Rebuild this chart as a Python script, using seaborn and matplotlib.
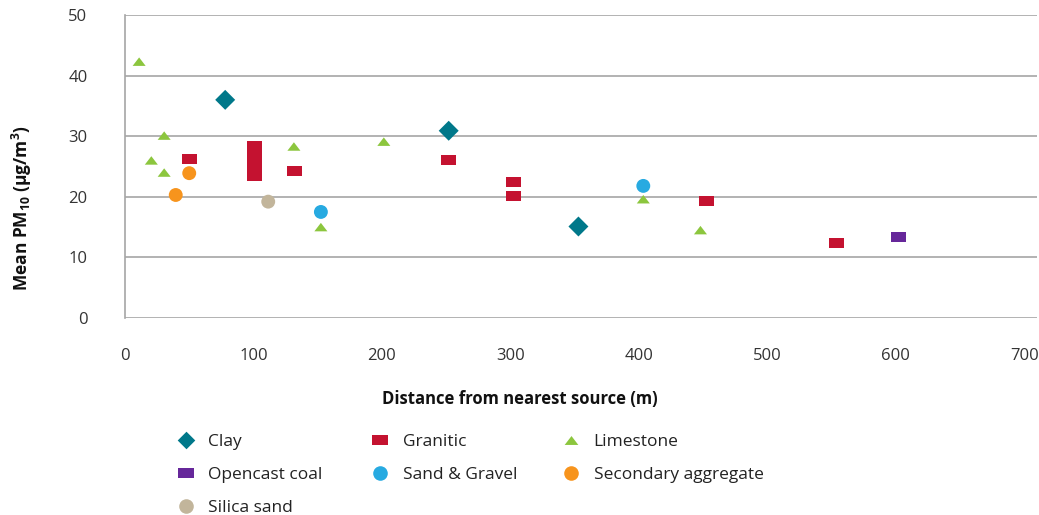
import numpy as np
import pandas as pd
import seaborn as sns
import matplotlib.pyplot as plt
from matplotlib.lines import Line2D
from matplotlib.path import Path

# Mean PM10 by distance from nearest mineral source, grouped by source type
clay_x = [78, 252, 353]
clay_y = [36.0, 30.9, 15.1]

granitic_x = [50.5, 100.5, 100.5, 100.5, 100.5, 100.5, 132, 252, 302.5, 302.5, 452.5, 554]
granitic_y = [26.2, 23.5, 24.7, 25.9, 27.1, 28.3, 24.3, 26.1, 22.4, 20.1, 19.3, 12.3]

limestone_x = [11, 20.5, 30.5, 30.5, 131.5, 152.5, 201.5, 403.5, 448]
limestone_y = [42.3, 26.0, 30.1, 24.0, 28.3, 15.0, 29.1, 19.6, 14.5]

coal_x = [602]
coal_y = [13.4]

sand_gravel_x = [152.5, 403.5]
sand_gravel_y = [17.5, 21.8]

secondary_x = [39.5, 50]
secondary_y = [20.3, 23.9]

silica_x = [111.5]
silica_y = [19.2]

x_ticks = [0, 100, 200, 300, 400, 500, 600, 700]
y_ticks = [0, 10, 20, 30, 40, 50]

groups = {
    "Clay": (clay_x, clay_y),
    "Granitic": (granitic_x, granitic_y),
    "Limestone": (limestone_x, limestone_y),
    "Opencast coal": (coal_x, coal_y),
    "Sand & Gravel": (sand_gravel_x, sand_gravel_y),
    "Secondary aggregate": (secondary_x, secondary_y),
    "Silica sand": (silica_x, silica_y),
}
df = pd.concat(
    [pd.DataFrame({"Distance": xs, "PM10": ys, "Source": name})
     for name, (xs, ys) in groups.items()],
    ignore_index=True,
)

sns.set_theme(style="white")
plt.rcParams["font.family"] = ["Open Sans", "DejaVu Sans"]
plt.rcParams["mathtext.fontset"] = "custom"
plt.rcParams["mathtext.rm"] = "Open Sans:bold"
plt.rcParams["mathtext.default"] = "rm"

diamond = Path([(0, 1), (1, 0), (0, -1), (-1, 0), (0, 1)],
               [Path.MOVETO, Path.LINETO, Path.LINETO, Path.LINETO, Path.CLOSEPOLY])
rect = Path([(-1, -0.667), (1, -0.667), (1, 0.667), (-1, 0.667), (-1, -0.667)],
            [Path.MOVETO, Path.LINETO, Path.LINETO, Path.LINETO, Path.CLOSEPOLY])
tri = Path([(0, 0.65), (1, -0.65), (-1, -0.65), (0, 0.65)],
           [Path.MOVETO, Path.LINETO, Path.LINETO, Path.CLOSEPOLY])

palette = {
    "Clay": "#00788a",
    "Granitic": "#c41230",
    "Limestone": "#8cc63e",
    "Opencast coal": "#66279a",
    "Sand & Gravel": "#27aae1",
    "Secondary aggregate": "#f7941d",
    "Silica sand": "#c2b59b",
}
markers = {
    "Clay": diamond,
    "Granitic": rect,
    "Limestone": tri,
    "Opencast coal": rect,
    "Sand & Gravel": "o",
    "Secondary aggregate": "o",
    "Silica sand": "o",
}
sizes = {
    "Clay": 207,
    "Granitic": 117,
    "Limestone": 88,
    "Opencast coal": 117,
    "Sand & Gravel": 100,
    "Secondary aggregate": 100,
    "Silica sand": 100,
}

W, H = 1039, 515
fig = plt.figure(figsize=(W / 100, H / 100), dpi=100)
ax = fig.add_axes([125 / W, 1 - 318 / H, (1037 - 125) / W, (318 - 15) / H])

sns.scatterplot(
    data=df, x="Distance", y="PM10", hue="Source", style="Source", size="Source",
    palette=palette, markers=markers, sizes=sizes, linewidth=0,
    legend=False, ax=ax, zorder=3,
)

ax.set_xlim(0, 710)
ax.set_ylim(0, 50)
ax.set_xticks(x_ticks)
ax.set_yticks(y_ticks)
ax.tick_params(axis="x", length=0, pad=21.5, labelsize=12, labelcolor="#333333")
ax.tick_params(axis="y", length=0, pad=27, labelsize=12, labelcolor="#333333")
ax.set_xlabel("")
ax.set_ylabel("")
ax.yaxis.grid(True, color="#a6a6a6", linewidth=1.2)
ax.xaxis.grid(False)
for side in ["top", "right", "bottom"]:
    ax.spines[side].set_visible(False)
ax.spines["left"].set_color("#a6a6a6")
ax.spines["left"].set_linewidth(1.2)

fig.text(519.5 / W, 1 - 399 / H, "Distance from nearest source (m)",
         ha="center", va="center", fontsize=12, fontweight="bold", color="#111111")
fig.text(22 / W, 1 - 208 / H, r"Mean PM$_{10}$ (µg/m$^{3}$)", rotation=90,
         ha="center", va="center", fontsize=12.5, fontweight="bold", color="#111111")

# Legend laid out in three columns
legend_fs = 12.5
handle_len = 1.0
columns = [
    (185.5, ["Clay", "Opencast coal", "Silica sand"]),
    (380, ["Granitic", "Sand & Gravel"]),
    (571, ["Limestone", "Secondary aggregate"]),
]
for x0, names in columns:
    handles = [
        Line2D([], [], linestyle="none", marker=markers[n], color=palette[n],
               markeredgewidth=0,
               markersize=np.sqrt(sizes[n]) * (0.88 if n == "Clay" else 1.05),
               label=n)
        for n in names
    ]
    half_handle_px = handle_len * legend_fs / 72 * 100 / 2
    fig.legend(handles=handles, loc="upper left",
               bbox_to_anchor=((x0 - half_handle_px) / W, 1 - 434 / H),
               frameon=False, fontsize=legend_fs, handlelength=handle_len,
               handletextpad=0.8, labelspacing=0.98, borderpad=0,
               borderaxespad=0, labelcolor="#222222")

fig.savefig("out.png", dpi=100)
